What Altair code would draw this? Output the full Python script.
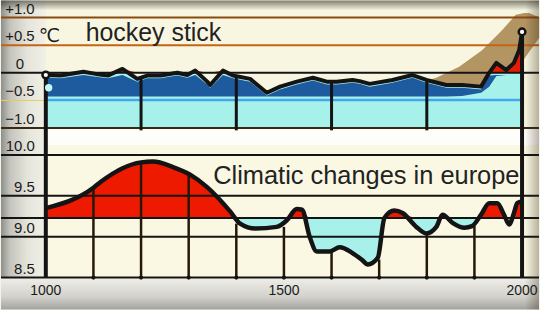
import altair as alt
import pandas as pd

# ---------------- data ----------------
# top panel: "hockey stick" temperature anomaly (deg C)
hs_years = [1000, 1031, 1079, 1105, 1130, 1161, 1192, 1213, 1241, 1276,
            1297, 1314, 1339, 1345, 1372, 1393, 1429, 1464, 1492, 1527,
            1561, 1590, 1611, 1644, 1659, 1680, 1728, 1770, 1799, 1841,
            1874, 1914, 1931, 1946, 1967, 1983, 1994, 2000]
hs_values = [-0.04, -0.05, 0.02, -0.02, -0.05, 0.07, -0.11, -0.05, -0.05, 0.0,
             -0.04, 0.04, -0.16, -0.22, 0.04, -0.05, -0.11, -0.36, -0.25, -0.16,
             -0.09, -0.16, -0.16, -0.13, -0.15, -0.20, -0.13, -0.04, -0.13, -0.22,
             -0.22, -0.25, 0.0, 0.18, 0.05, 0.18, 0.41, 0.74]
# lower edge of the dark blue band under the curve
hs_band_low = [-0.43] * 30 + [-0.42, -0.36, -0.25, -0.06, -0.04, -0.04, -0.04, -0.04]

# uncertainty (brown) band
unc_years = [1805, 1820, 1868, 1916, 1958, 1987, 2000, 2003, 2015, 2036]
unc_upper = [-0.13, -0.09, 0.11, 0.41, 0.77, 1.05, 1.07, 1.08, 1.08, 1.0]
unc_lower = [-0.35, -0.35, -0.35, -0.35, -0.35, -0.35, -0.35, 0.23, 0.38, 0.63]

top_ticks = [1.0, 0.5, 0.0, -0.5, -1.0]
top_tick_labels = ["+1.0", "+0.5", "0", "\u22120.5", "\u22121.0"]
top_grid_years = [1200, 1400, 1600, 1800]
top_grid_tops = [-0.08, -0.07, -0.16, -0.13]

# bottom panel: climatic changes in Europe (deg C)
eu_years = [1000, 1100, 1115, 1200, 1225, 1268, 1303, 1338, 1387, 1408,
            1440, 1485, 1506, 1527, 1538, 1554, 1569, 1596, 1617, 1644,
            1665, 1676, 1697, 1711, 1732, 1749, 1778, 1799, 1820, 1833,
            1854, 1879, 1895, 1914, 1931, 1948, 1962, 1973, 1983, 1990, 2000]
eu_values = [9.35, 9.60, 9.67, 9.91, 9.92, 9.85, 9.76, 9.61, 9.31, 9.16,
             9.10, 9.12, 9.20, 9.34, 9.33, 9.00, 8.82, 8.82, 8.87, 8.80,
             8.71, 8.66, 8.74, 9.23, 9.32, 9.29, 9.12, 9.04, 9.12, 9.27,
             9.17, 9.11, 9.13, 9.27, 9.41, 9.41, 9.27, 9.15, 9.29, 9.41, 9.43]
eu_ref = 9.23
bottom_ticks = [10.0, 9.5, 9.0, 8.5]
bottom_tick_labels = ["10.0", "9.5", "9.0", "8.5"]
century_years = [1100, 1200, 1300, 1400, 1500, 1600, 1700, 1800, 1900]
century_tops = [9.60, 9.91, 9.76, 9.16, 9.12, 8.82, 8.72, 9.04, 9.13]
x_label_years = [1000, 1500, 2000]
x_labels = ["1000", "1500", "2000"]

# ---------------- scales ----------------
X0, X1 = 905.9, 2035.6
TOP_LO, TOP_HI = -1.306, 1.306
BOT_LO, BOT_HI = 8.11, 10.122
XS = alt.Scale(domain=[X0, X1], nice=False, zero=False)
YT = alt.Scale(domain=[TOP_LO, TOP_HI], nice=False, zero=False)
YB = alt.Scale(domain=[BOT_LO, BOT_HI], nice=False, zero=False)
FONT = "Liberation Sans"
INK = "#141414"


def xf(f):
    return alt.X(f, type="quantitative", scale=XS, axis=None)


def yf(f, sc):
    return alt.Y(f, type="quantitative", scale=sc, axis=None)


def xd(v):
    return alt.XDatum(v, type="quantitative", scale=XS, axis=None)


def yd(v, sc):
    return alt.YDatum(v, type="quantitative", scale=sc, axis=None)


def grad(stops, vertical=False):
    return {"gradient": "linear", "x1": 0, "y1": 0,
            "x2": 0 if vertical else 1, "y2": 1 if vertical else 0,
            "stops": [{"offset": o, "color": c} for o, c in stops]}


def rect(x, x2, y, y2, sc, fill):
    return alt.Chart().mark_rect(fill=fill, strokeWidth=0).encode(
        x=xd(x), x2=alt.X2Datum(x2), y=yd(y, sc), y2=alt.Y2Datum(y2))


def hrule(v, sc, color, w, xa=X0, xb=X1):
    return alt.Chart().mark_rule(color=color, strokeWidth=w).encode(
        x=xd(xa), x2=alt.X2Datum(xb), y=yd(v, sc))


def vrule(xv, ya, yb, sc, color, w):
    return alt.Chart().mark_rule(color=color, strokeWidth=w).encode(
        x=xd(xv), y=yd(ya, sc), y2=alt.Y2Datum(yb))


left_col = grad([(0, "#8f8f8a"), (0.2, "#c4c4bd"), (0.6, "#e6e5dc"), (1, "#f1f0e6")])
right_vig = grad([(0, "rgba(40,30,10,0)"), (1, "rgba(40,30,10,0.32)")])

dummy = pd.DataFrame({"a": [0]})
df_hs = pd.DataFrame({"year": hs_years, "v": hs_values, "low": hs_band_low})
df_unc = pd.DataFrame({"year": unc_years, "lo": unc_lower, "hi": unc_upper})
df_tt = pd.DataFrame({"v": top_ticks, "label": top_tick_labels})
df_tg = pd.DataFrame({"year": top_grid_years, "top": top_grid_tops})
df_eu = pd.DataFrame({"year": eu_years, "v": eu_values})
df_bt = pd.DataFrame({"v": bottom_ticks, "label": bottom_tick_labels})
df_cg = pd.DataFrame({"year": century_years, "top": century_tops})
df_xl = pd.DataFrame({"year": x_label_years, "label": x_labels})

# ---------------- top panel ----------------
top_layers = [
    rect(X0, X1, TOP_LO, TOP_HI, YT, "#f8f6e1"),
    rect(X0, 1000, TOP_LO, TOP_HI, YT, left_col),
    rect(1000, X1, -1.02, TOP_LO, YT, "#fdfdf9"),
    alt.Chart(df_unc).mark_area(color="#b39563").encode(
        x=xf("year"), y=yf("lo", YT), y2=alt.Y2("hi")),
    alt.Chart(df_hs).transform_calculate(base="-1.0").mark_area(color="#a6f1ea").encode(
        x=xf("year"), y=yf("base", YT), y2=alt.Y2("v")),
    alt.Chart(df_hs).transform_calculate(
        top="min(datum.v - 0.05, -0.04)",
        low2="min(datum.low, min(datum.v - 0.05, -0.04))",
    ).mark_area(color="#1d5a9e").encode(
        x=xf("year"), y=yf("low2", YT), y2=alt.Y2("top")),
    alt.Chart(df_hs).transform_calculate(zero="0", pos="max(datum.v, 0)").mark_area(
        color="#e81c00").encode(x=xf("year"), y=yf("zero", YT), y2=alt.Y2("pos")),
    hrule(-0.49, YT, "#43a6ee", 2.5, 1000, 2000),
    hrule(-0.5, YT, "#e2cf5a", 1, X0, 1000),
    hrule(1.0, YT, "#8a4a10", 2),
    hrule(0.5, YT, "#c46414", 2),
    hrule(0.0, YT, INK, 2),
    hrule(-1.0, YT, "#3a2a14", 2),
    alt.Chart(df_tg).transform_calculate(bot="-1.04").mark_rule(
        color=INK, strokeWidth=3).encode(x=xf("year"), y=yf("top", YT), y2=alt.Y2("bot")),
    vrule(1000, 0.0, TOP_LO, YT, INK, 4),
    alt.Chart(df_hs).transform_filter("datum.year == 2000").transform_calculate(
        bot=str(TOP_LO)).mark_rule(color=INK, strokeWidth=4).encode(
        x=xf("year"), y=yf("v", YT), y2=alt.Y2("bot")),
    alt.Chart(df_hs).mark_line(color=INK, strokeWidth=4, strokeJoin="round").encode(
        x=xf("year"), y=yf("v", YT)),
    alt.Chart(df_hs).transform_filter("datum.year == 1000 || datum.year == 2000").mark_circle(
        color="white", opacity=1, stroke=INK, strokeWidth=2.5, size=45).encode(
        x=xf("year"), y=yf("v", YT)),
    alt.Chart().mark_circle(color="#c2f6f8", opacity=1, size=55).encode(
        x=xd(1006), y=yd(-0.27, YT)),
    alt.Chart(df_tt).mark_text(align="center", baseline="middle", dy=-9, fontSize=15,
                               font=FONT, color="#1a1a1a").encode(
        x=xd(945.6), y=yf("v", YT), text="label:N"),
    alt.Chart().mark_text(text="\u2103", align="left", baseline="middle", dy=-9, fontSize=19,
                          font="DejaVu Sans", color="#1a1a1a").encode(
        x=xd(985.4), y=yd(0.5, YT)),
    alt.Chart().mark_text(text="hockey stick", align="left", baseline="middle", fontSize=25,
                          font=FONT, color="#222222").encode(
        x=xd(1083.7), y=yd(0.72, YT)),
    rect(2006, X1, TOP_LO, TOP_HI, YT, right_vig),
    rect(X0, X1, TOP_HI, 1.13, YT, grad([(0, "rgba(30,30,20,0.55)"), (1, "rgba(30,30,20,0)")], True)),
]
top = alt.layer(*top_layers, data=dummy).properties(width=540, height=145)

# ---------------- bottom panel ----------------
bot_layers = [
    rect(X0, X1, 8.5, BOT_HI, YB, "#faf8e3"),
    rect(X0, X1, BOT_LO, 8.5, YB, grad([(0, "#efeee8"), (0.6, "#d2d1cb"), (1, "#a3a29c")], True)),
    rect(X0, 1000, 8.5, BOT_HI, YB, left_col),
    alt.Chart(df_eu).transform_calculate(base=str(eu_ref), lo=f"min(datum.v, {eu_ref})").mark_area(
        color="#a8f0ea", interpolate="monotone").encode(
        x=xf("year"), y=yf("lo", YB), y2=alt.Y2("base")),
    alt.Chart(df_eu).transform_calculate(base=str(eu_ref), hi=f"max(datum.v, {eu_ref})").mark_area(
        color="#ee1a00", interpolate="monotone").encode(
        x=xf("year"), y=yf("base", YB), y2=alt.Y2("hi")),
    hrule(10.0, YB, INK, 2),
    hrule(9.5, YB, INK, 2),
    hrule(eu_ref, YB, INK, 2),
    hrule(9.0, YB, INK, 2),
    hrule(8.5, YB, INK, 2),
    alt.Chart(df_cg).transform_calculate(bot="8.5").mark_rule(
        color="#24180a", strokeWidth=2.5).encode(x=xf("year"), y=yf("top", YB), y2=alt.Y2("bot")),
    alt.Chart(df_cg).transform_calculate(bot="8.5").mark_circle(
        color=INK, opacity=1, size=18).encode(x=xf("year"), y=yf("bot", YB)),
    vrule(1000, BOT_HI, 8.5, YB, INK, 4),
    vrule(2000, BOT_HI, 8.5, YB, INK, 4),
    alt.Chart(df_eu).mark_line(color=INK, strokeWidth=4.5, interpolate="monotone",
                               strokeJoin="round").encode(x=xf("year"), y=yf("v", YB)),
    alt.Chart(df_bt).mark_text(align="right", baseline="middle", dy=-9, fontSize=15,
                               font=FONT, color="#1a1a1a").encode(
        x=xd(977.0), y=yf("v", YB), text="label:N"),
    alt.Chart().mark_text(text="Climatic changes in europe", align="left", baseline="middle",
                          fontSize=25.5, font=FONT, color="#222222").encode(
        x=xd(1351.5), y=yd(9.744, YB)),
    alt.Chart(df_xl).mark_text(align="center", baseline="middle", fontSize=14,
                               font=FONT, color="#1a1a1a").encode(
        x=xf("year"), y=yd(8.33, YB), text="label:N"),
    rect(2006, X1, BOT_LO, BOT_HI, YB, right_vig),
]
bottom = alt.layer(*bot_layers, data=dummy).properties(width=540, height=165)

chart = alt.vconcat(top, bottom, spacing=0, bounds="flush").resolve_scale(
    x="independent", y="independent"
).properties(padding=0, background="#f4f3ea").configure_view(stroke=None)

chart.save("out.html", embed_options={"renderer": "svg", "actions": False})
